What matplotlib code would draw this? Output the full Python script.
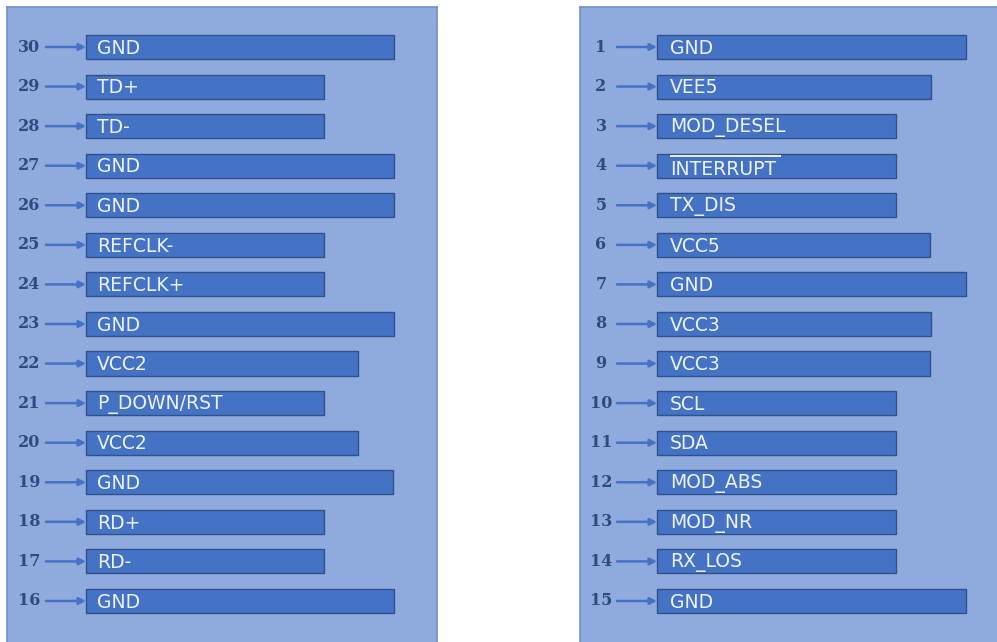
import matplotlib
matplotlib.use("Agg")
import matplotlib.pyplot as plt

# ---- data ----
left_pins = [30, 29, 28, 27, 26, 25, 24, 23, 22, 21, 20, 19, 18, 17, 16]
left_names = ["GND", "TD+", "TD-", "GND", "GND", "REFCLK-", "REFCLK+", "GND",
              "VCC2", "P_DOWN/RST", "VCC2", "GND", "RD+", "RD-", "GND"]
left_lengths = [308, 238, 238, 308, 308, 238, 238, 308, 272, 238, 272, 307, 238, 238, 308]

right_pins = list(range(1, 16))
right_names = ["GND", "VEE5", "MOD_DESEL", "INTERRUPT", "TX_DIS", "VCC5", "GND",
               "VCC3", "VCC3", "SCL", "SDA", "MOD_ABS", "MOD_NR", "RX_LOS", "GND"]
right_lengths = [309, 274, 239, 239, 239, 273, 309, 274, 273, 239, 239, 239, 239, 239, 309]
overlined = {"INTERRUPT"}

W, H = 997, 642
fig = plt.figure(figsize=(W / 100, H / 100), dpi=100)
fig.patch.set_facecolor("white")

panel_fc = "#8FAADC"
panel_ec = "#6F90CD"
bar_fc = "#4472C4"
bar_ec = "#2F528F"
num_color = "#2F4A80"
txt_color = "#EEF2FA"

row_top_px = 47
row_step = 39.57


def make_panel(x0, x1, pins, names, lengths, bar_start, num_x, num_ha, arrow_x0, txt_off):
    ax = fig.add_axes([x0 / W, 0, (x1 - x0) / W, (H - 7) / H])
    ax.set_xlim(0, x1 - x0)
    ax.set_ylim((H - row_top_px) / row_step, (7 - row_top_px) / row_step)
    ax.set_facecolor(panel_fc)
    for s in ax.spines.values():
        s.set_color(panel_ec)
        s.set_linewidth(1.2)
    ax.spines["bottom"].set_visible(False)
    ax.set_xticks([])
    ax.set_yticks([])
    ys = list(range(len(pins)))
    ax.barh(ys, lengths, left=bar_start, height=0.61, color=bar_fc,
            edgecolor=bar_ec, linewidth=1.0)
    texts = []
    for y, p, n in zip(ys, pins, names):
        ax.text(num_x, y, str(p), ha=num_ha, va="center", fontsize=11.5,
                fontweight="bold", family="DejaVu Serif", color=num_color)
        ax.annotate("", xy=(bar_start, y), xytext=(arrow_x0, y),
                    arrowprops=dict(arrowstyle="-|>", color=bar_fc, lw=1.8,
                                    mutation_scale=10, shrinkA=0, shrinkB=0))
        dy = 0.1 if n in overlined else 0.03
        t = ax.text(bar_start + txt_off, y + dy, n, ha="left", va="center",
                    fontsize=13.5, family="DejaVu Sans", color=txt_color)
        if n in overlined:
            texts.append((t, y))
    return ax, texts


axL, _ = make_panel(7, 437, left_pins, left_names, left_lengths,
                    bar_start=79, num_x=33, num_ha="right", arrow_x0=39, txt_off=11)
axR, ov = make_panel(580, 998, right_pins, right_names, right_lengths,
                     bar_start=77, num_x=21, num_ha="center", arrow_x0=37, txt_off=13)

fig.canvas.draw()
r = fig.canvas.get_renderer()
for t, y in ov:
    bb = t.get_window_extent(renderer=r)
    inv = axR.transData.inverted()
    (xa, _), (xb, _) = inv.transform([(bb.x0, bb.y0), (bb.x1, bb.y1)])
    axR.plot([xa, xb + 5], [y - 0.24, y - 0.24], color=txt_color, lw=1.4,
             solid_capstyle="butt")

fig.savefig("out.png", dpi=100)
